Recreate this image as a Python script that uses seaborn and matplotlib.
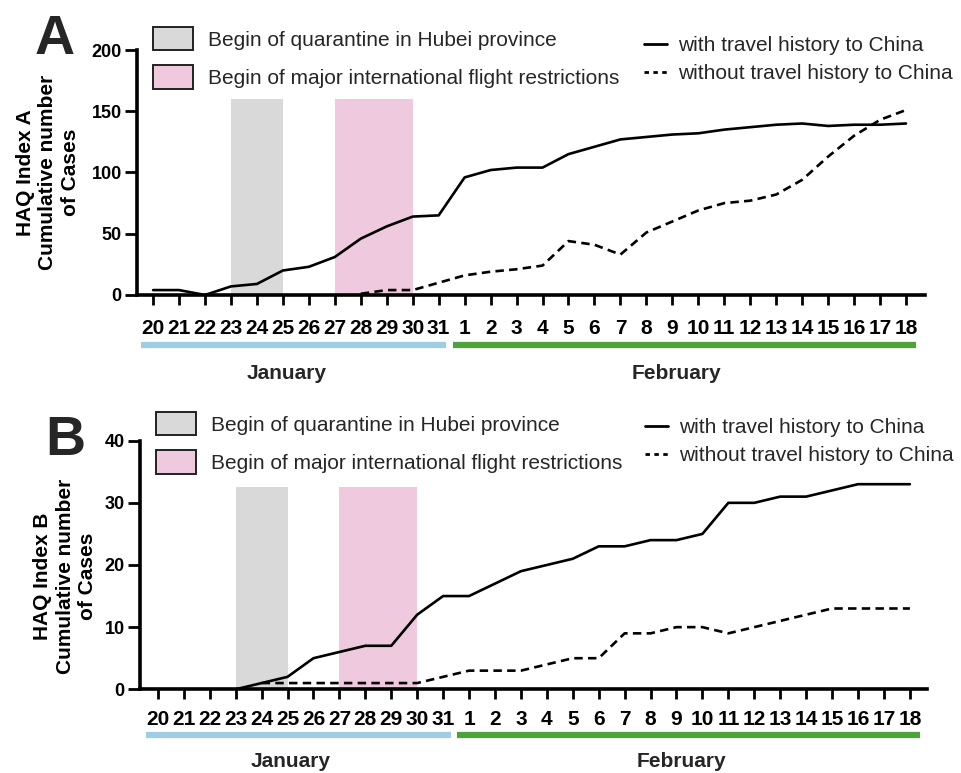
import pandas as pd
import matplotlib.pyplot as plt
import seaborn as sns
import numpy as np
from matplotlib.patches import Patch
from matplotlib.lines import Line2D

sns.set_theme(style="white")
plt.rcParams['font.family'] = ['Liberation Sans', 'DejaVu Sans']
NARROW = ['Liberation Sans Narrow', 'Liberation Sans', 'DejaVu Sans']

nan = np.nan

# days 20..31 January, 1..18 February
day_labels = ['20', '21', '22', '23', '24', '25', '26', '27', '28', '29', '30', '31',
              '1', '2', '3', '4', '5', '6', '7', '8', '9', '10', '11', '12', '13',
              '14', '15', '16', '17', '18']

# panel A - cumulative cases
a_with = [4, 4, 0, 7, 9, 20, 23, 31, 46, 56, 64, 65,
          96, 102, 104, 104, 115, 121, 127, 129, 131, 132, 135, 137, 139, 140, 138, 139, 139, 140]
a_without = [nan, nan, nan, nan, nan, nan, nan, nan, 1, 4, 4, 10,
             16, 19, 21, 24, 44, 41, 33, 51, 60, 69, 75, 77, 82, 94, 113, 130, 143, 151]

# panel B - cumulative cases
b_with = [nan, nan, nan, 0, 1, 2, 5, 6, 7, 7, 12, 15,
          15, 17, 19, 20, 21, 23, 23, 24, 24, 25, 30, 30, 31, 31, 32, 33, 33, 33]
b_without = [nan, nan, nan, nan, 1, 1, 1, 1, 1, 1, 1, 2,
             3, 3, 3, 4, 5, 5, 9, 9, 10, 10, 9, 10, 11, 12, 13, 13, 13, 13]

quarantine = ('23', '25')
flights = ('27', '30')
months = ['January', 'February']

series_names = ['with travel history to China', 'without travel history to China']
band_names = ['Begin of quarantine in Hubei province',
              'Begin of major international flight restrictions']

GRAY = '#d9d9d9'
PINK = '#efc9dd'
BLUE = '#9fcde3'
GREEN = '#4ea23c'


def draw_panel(ax, with_vals, without_vals, ymax, yticks, band_top, ylabel,
               label_x, label_y, xlim, tick_pad, bar_y, month_y, leg_patch, leg_line):
    idx = np.arange(len(day_labels))
    pos = {d: i for i, d in enumerate(day_labels)}

    # shaded periods
    for (d0, d1), col in [(quarantine, GRAY), (flights, PINK)]:
        ax.fill_between([pos[d0], pos[d1]], 0, band_top, color=col, linewidth=0, zorder=0)

    df = pd.DataFrame({
        'day': np.concatenate([idx, idx]),
        'cases': np.concatenate([with_vals, without_vals]),
        'group': [series_names[0]] * len(idx) + [series_names[1]] * len(idx),
    })
    sns.lineplot(data=df, x='day', y='cases', style='group',
                 dashes={series_names[0]: '', series_names[1]: (3.2, 2)},
                 color='black', linewidth=1.9, legend=False, errorbar=None, ax=ax, zorder=3)

    ax.set_xlim(*xlim)
    ax.set_ylim(0, ymax)
    ax.set_xticks(idx)
    ax.set_xticklabels(day_labels, fontweight='bold', fontsize=15, family=NARROW)
    ax.set_yticks(yticks)
    ax.set_yticklabels([str(t) for t in yticks], fontweight='bold', fontsize=13)
    ax.set_xlabel('')
    ax.set_ylabel('')
    ax.tick_params(axis='x', bottom=True, direction='out', length=7, width=2, pad=tick_pad, colors='black')
    ax.tick_params(axis='y', left=True, direction='out', length=9, width=2, pad=2, colors='black')
    for s in ['top', 'right']:
        ax.spines[s].set_visible(False)
    for s in ['left', 'bottom']:
        ax.spines[s].set_color('black')
        ax.spines[s].set_linewidth(2.6)

    ax.text(label_x, label_y, ylabel, transform=ax.transAxes, rotation=90,
            ha='center', va='center', multialignment='center',
            fontweight='bold', fontsize=15, linespacing=1.25, color='black')

    # month bars below the day labels
    tr = ax.get_xaxis_transform()
    spans = [(-0.45, 11.3), (11.55, 29.4)]
    for (x0, x1), col, name in zip(spans, [BLUE, GREEN], months):
        ax.plot([x0, x1], [bar_y, bar_y], transform=tr, clip_on=False,
                color=col, linewidth=4.5, solid_capstyle='butt')
        ax.text((x0 + x1) / 2 - 0.3, month_y, name, transform=tr, ha='center', va='center',
                fontweight='bold', fontsize=15, family=NARROW)

    # legends
    patches = [Patch(facecolor=GRAY, edgecolor='#222222', linewidth=1.4, label=band_names[0]),
               Patch(facecolor=PINK, edgecolor='#222222', linewidth=1.4, label=band_names[1])]
    leg1 = ax.legend(handles=patches, loc='upper left', bbox_to_anchor=leg_patch,
                     bbox_transform=ax.figure.transFigure, frameon=False, fontsize=15,
                     handlelength=1.9, handleheight=1.35, handletextpad=0.72,
                     labelspacing=0.72, borderpad=0, borderaxespad=0)
    ax.add_artist(leg1)
    lines = [Line2D([], [], color='black', linewidth=2, label=series_names[0]),
             Line2D([], [], color='black', linewidth=2, linestyle=(0, (1.6, 1.6)), label=series_names[1])]
    ax.legend(handles=lines, loc='upper left', bbox_to_anchor=leg_line,
              bbox_transform=ax.figure.transFigure, frameon=False, fontsize=15,
              handlelength=1.1, handletextpad=0.55, labelspacing=0.45,
              borderpad=0, borderaxespad=0)


fig = plt.figure(figsize=(9.62, 7.73), dpi=100)
ax_a = fig.add_axes([0.1424, 0.6184, 0.8191, 0.3169])
ax_b = fig.add_axes([0.1455, 0.1083, 0.8181, 0.3216])

draw_panel(ax_a, a_with, a_without, 200, [0, 50, 100, 150, 200], 160,
           'HAQ Index A\nCumulative number\nof Cases', -0.113, 0.5, (-0.62, 29.73), 10,
           -0.204, -0.322, (153 / 962, 1 - 27 / 773), (644 / 962, 1 - 36 / 773))
draw_panel(ax_b, b_with, b_without, 40, [0, 10, 20, 30, 40], 32.5,
           'HAQ Index B\nCumulative number\nof Cases', -0.095, 0.456, (-0.69, 29.66), 8,
           -0.184, -0.29, (156 / 962, 1 - 412 / 773), (645 / 962, 1 - 418 / 773))

fig.text(0.036, 1 - 54 / 773, 'A', fontsize=40, fontweight='bold', va='baseline', ha='left')
fig.text(0.047, 1 - 455 / 773, 'B', fontsize=40, fontweight='bold', va='baseline', ha='left')

fig.savefig('out.png', dpi=100)
